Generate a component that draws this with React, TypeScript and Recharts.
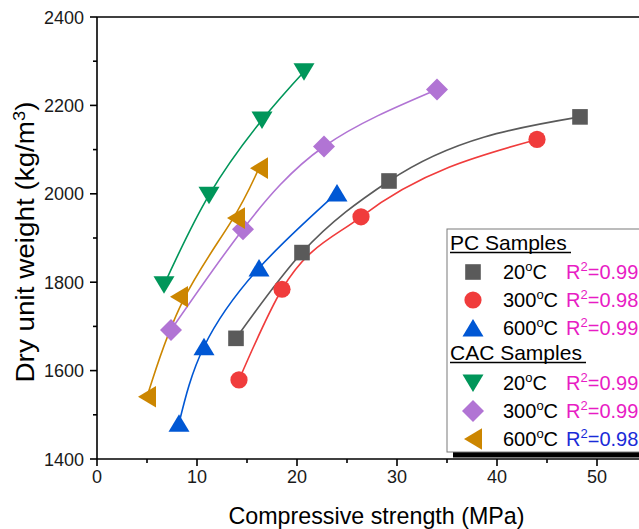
import React from "react";
import { ComposedChart, Line, XAxis, YAxis, ReferenceLine } from "recharts";

// ---- data ----
const pc20X = [13.9, 20.5, 29.2, 48.3];
const pc20Y = [1673, 1867, 2029, 2174];
const pc300X = [14.2, 18.5, 26.4, 44.0];
const pc300Y = [1579, 1784, 1948, 2123];
const pc600X = [8.2, 10.7, 16.2, 24.0];
const pc600Y = [1481, 1654, 1832, 2002];
const cac20X = [6.7, 11.2, 16.5, 20.7];
const cac20Y = [1794, 1997, 2167, 2276];
const cac300X = [7.4, 14.6, 22.7, 34.0];
const cac300Y = [1692, 1920, 2107, 2236];
const cac600X = [5.0, 8.2, 13.9, 16.2];
const cac600Y = [1541, 1767, 1945, 2058];

const xTicks = [0, 5, 10, 15, 20, 25, 30, 35, 40, 45, 50];
const yTicks = [1400, 1500, 1600, 1700, 1800, 1900, 2000, 2100, 2200, 2300, 2400];

const groupTitles = ["PC Samples", "CAC Samples"];
const tempLabels = ["20", "300", "600"];
const r2Values = ["0.99", "0.98", "0.99", "0.99", "0.99", "0.98"];

const FONT = "'Liberation Sans', Arial, Helvetica, sans-serif";

const build = (xs: number[], ys: number[]) => xs.map((x, i) => ({ x, y: ys[i] }));

type ShapeKind = "square" | "circle" | "up" | "down" | "diamond" | "left";

const Marker = ({ kind, cx, cy, color }: { kind: ShapeKind; cx: number; cy: number; color: string }) => {
  if (kind === "square") return <rect x={cx - 7.8} y={cy - 7.8} width={15.6} height={15.6} fill={color} />;
  if (kind === "circle") return <circle cx={cx} cy={cy} r={8.6} fill={color} />;
  let pts = "";
  if (kind === "up") pts = `${cx},${cy - 9} ${cx - 10.5},${cy + 8.5} ${cx + 10.5},${cy + 8.5}`;
  if (kind === "down") pts = `${cx - 10.5},${cy - 8.5} ${cx + 10.5},${cy - 8.5} ${cx},${cy + 9}`;
  if (kind === "diamond") pts = `${cx},${cy - 11} ${cx + 11},${cy} ${cx},${cy + 11} ${cx - 11},${cy}`;
  if (kind === "left") pts = `${cx - 9},${cy} ${cx + 9},${cy - 10.8} ${cx + 9},${cy + 10.8}`;
  return <polygon points={pts} fill={color} />;
};

type CurveKind = "natural" | "basis" | "monotone";

const series: { key: string; data: { x: number; y: number }[]; color: string; kind: ShapeKind; curve: CurveKind }[] = [
  { key: "pc20", data: build(pc20X, pc20Y), color: "#5a5a5a", kind: "square", curve: "monotone" },
  { key: "pc300", data: build(pc300X, pc300Y), color: "#f03c3c", kind: "circle", curve: "monotone" },
  { key: "pc600", data: build(pc600X, pc600Y), color: "#0057d4", kind: "up", curve: "natural" },
  { key: "cac20", data: build(cac20X, cac20Y), color: "#00965a", kind: "down", curve: "natural" },
  { key: "cac300", data: build(cac300X, cac300Y), color: "#b174d4", kind: "diamond", curve: "natural" },
  { key: "cac600", data: build(cac600X, cac600Y), color: "#cc8600", kind: "left", curve: "basis" },
];

const r2Colors = ["#e81cc4", "#e81cc4", "#e81cc4", "#e81cc4", "#e81cc4", "#1a2bd8"];

const XTick = (props: any) => {
  const { x, y, payload } = props;
  const major = payload.value % 10 === 0;
  return (
    <g>
      <line x1={x} y1={y} x2={x} y2={y + (major ? 7 : 4)} stroke="#000" strokeWidth={1.6} />
      {major && (
        <text x={x} y={y + 24} textAnchor="middle" fontSize={18} fontFamily={FONT} fill="#1a1a1a">
          {payload.value}
        </text>
      )}
    </g>
  );
};

const YTick = (props: any) => {
  const { x, y, payload } = props;
  const major = payload.value % 200 === 0;
  return (
    <g>
      <line x1={x - (major ? 7 : 4)} y1={y} x2={x} y2={y} stroke="#000" strokeWidth={1.6} />
      {major && (
        <text x={x - 13} y={y + 6.5} textAnchor="end" fontSize={18} fontFamily={FONT} fill="#1a1a1a">
          {payload.value}
        </text>
      )}
    </g>
  );
};

const XLabel = (props: any) => {
  const vb = props.viewBox;
  return (
    <text
      x={vb.x + vb.width / 2 + 4.5}
      y={vb.y + 65}
      textAnchor="middle"
      fontSize={24.5}
      fontFamily={FONT}
      fill="#000"
      textLength={296}
      lengthAdjust="spacingAndGlyphs"
    >
      Compressive strength (MPa)
    </text>
  );
};

const YLabel = (props: any) => {
  const vb = props.viewBox;
  const cx = 33.5;
  const cy = vb.y + vb.height / 2 + 4;
  return (
    <text
      x={cx}
      y={cy}
      textAnchor="middle"
      fontSize={26}
      fontFamily={FONT}
      fill="#000"
      textLength={281}
      lengthAdjust="spacingAndGlyphs"
      transform={`rotate(-90, ${cx}, ${cy})`}
    >
      Dry unit weight (kg/m
      <tspan dy={-9} fontSize={17}>3</tspan>
      <tspan dy={9}>)</tspan>
    </text>
  );
};

const Legend = () => {
  const rows = [272, 300, 328, 383, 411, 439];
  const titleY = [250, 360];
  const underlineW = [121, 136];
  return (
    <svg
      width={639}
      height={529}
      style={{ position: "absolute", left: 0, top: 0, pointerEvents: "none" }}
      fontFamily={FONT}
    >
      <rect x={453} y={451.5} width={200} height={6} fill="#000" />
      <rect x={447} y={229} width={220} height={223} fill="#fff" stroke="#7a7a7a" strokeWidth={1} />
      {groupTitles.map((t, i) => (
        <g key={t}>
          <text x={450} y={titleY[i]} fontSize={21} fill="#000">
            {t}
          </text>
          <line x1={450} x2={450 + underlineW[i]} y1={titleY[i] + 2.5} y2={titleY[i] + 2.5} stroke="#000" strokeWidth={1.6} />
        </g>
      ))}
      {series.map((s, i) => (
        <g key={s.key}>
          <Marker kind={s.kind} cx={473} cy={rows[i]} color={s.color} />
          <text x={503} y={rows[i] + 7} fontSize={20} fill="#000">
            {tempLabels[i % 3]}
            <tspan dy={-8} fontSize={13}>o</tspan>
            <tspan dy={8}>C</tspan>
          </text>
          <text x={566} y={rows[i] + 7} fontSize={20} fill={r2Colors[i]}>
            R<tspan dy={-8} fontSize={13}>2</tspan>
            <tspan dy={8}>={r2Values[i]}</tspan>
          </text>
        </g>
      ))}
    </svg>
  );
};

export default function App() {
  return (
    <div
      style={{
        position: "absolute",
        left: 0,
        top: 0,
        width: 639,
        height: 529,
        overflow: "hidden",
        background: "#fff",
      }}
    >
      <ComposedChart width={700} height={529} margin={{ top: 17, right: 53, bottom: 0, left: 0 }}>
        <XAxis
          type="number"
          dataKey="x"
          domain={[0, 55]}
          ticks={xTicks}
          allowDataOverflow
          height={70}
          tickSize={0}
          tickMargin={0}
          tickLine={false}
          tick={<XTick />}
          axisLine={{ stroke: "#000", strokeWidth: 1.6 }}
          interval={0}
          label={<XLabel />}
        />
        <YAxis
          type="number"
          dataKey="y"
          domain={[1400, 2400]}
          ticks={yTicks}
          allowDataOverflow
          width={97}
          tickSize={0}
          tickMargin={0}
          tickLine={false}
          tick={<YTick />}
          axisLine={{ stroke: "#000", strokeWidth: 1.6 }}
          interval={0}
          label={<YLabel />}
        />
        <ReferenceLine y={2400} stroke="#000" strokeWidth={1.6} />
        {series.map((s) => (
          <Line
            key={s.key}
            data={s.data}
            dataKey="y"
            type={s.curve}
            stroke={s.color}
            strokeWidth={1.6}
            isAnimationActive={false}
            activeDot={false}
            dot={(p: any) => <Marker key={`${s.key}-${p.index}`} kind={s.kind} cx={p.cx} cy={p.cy} color={s.color} />}
          />
        ))}
      </ComposedChart>
      <Legend />
    </div>
  );
}
